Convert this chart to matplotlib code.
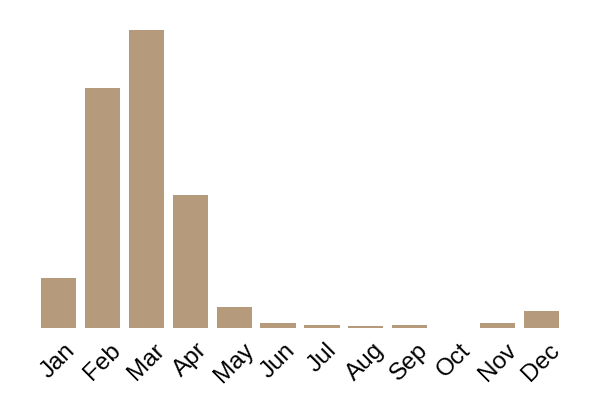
import matplotlib
matplotlib.use("Agg")
import matplotlib.pyplot as plt

months = ["Jan", "Feb", "Mar", "Apr", "May", "Jun", "Jul", "Aug", "Sep", "Oct", "Nov", "Dec"]
values = [50, 240, 298, 133, 21, 5, 3, 2, 3, 0, 5, 17]

plt.rcParams["font.family"] = ["Liberation Sans", "DejaVu Sans"]

fig = plt.figure(figsize=(6, 4), dpi=100)
ax = fig.add_axes([0.061, 0.18, 0.878, 0.745])
ax.bar(range(len(months)), values, width=0.8, color="#b59b7c")
ax.set_xlim(-0.5, len(months) - 0.5)
ax.set_ylim(0, max(values))
ax.set_xticks(range(len(months)))
ax.set_xticklabels(months, rotation=45, ha="center", fontsize=17.5)
ax.tick_params(axis="x", length=0, pad=8)
ax.set_yticks([])
for s in ax.spines.values():
    s.set_visible(False)
fig.savefig("out.png", dpi=100)
